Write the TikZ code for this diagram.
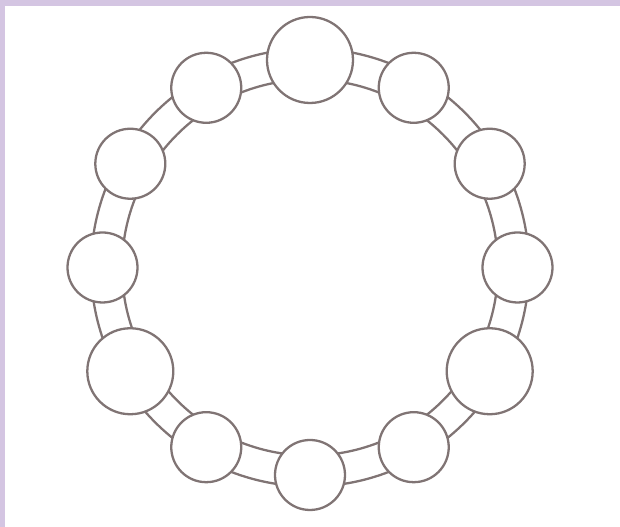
\documentclass[tikz,border=0pt]{standalone}
\usepackage{xcolor}
\usepackage{tikz}
\usetikzlibrary{calc}
\definecolor{beadline}{RGB}{128,116,116}
\definecolor{lavender}{RGB}{212,197,226}

\begin{document}
\begin{tikzpicture}[line join=round,
  bead/.style={circle,draw=beadline,fill=white,line width=1.3pt,inner sep=0pt,minimum size=1.40cm},
  bigbead/.style={bead,minimum size=1.72cm}]
  \useasboundingbox (0,0) rectangle (12.4,10.54);
  \fill[lavender] (0,10.42) rectangle (12.4,10.54);
  \fill[lavender] (0,0) rectangle (0.10,10.54);
  \coordinate (C) at (6.200,5.190);
  \draw[beadline,line width=1.3pt] (C) circle (3.76);
  \draw[beadline,line width=1.3pt] (C) circle (4.38);
  \node[bigbead] (N90) at ($(C)+(90:4.15)$) {};
  \node[bead] (N60) at ($(C)+(60:4.15)$) {};
  \node[bead] (N30) at ($(C)+(30:4.15)$) {};
  \node[bead] (N0) at ($(C)+(0:4.15)$) {};
  \node[bigbead] (N330) at ($(C)+(-30:4.15)$) {};
  \node[bead] (N300) at ($(C)+(-60:4.15)$) {};
  \node[bead] (N270) at ($(C)+(-90:4.15)$) {};
  \node[bead] (N240) at ($(C)+(-120:4.15)$) {};
  \node[bigbead] (N210) at ($(C)+(-150:4.15)$) {};
  \node[bead] (N180) at ($(C)+(180:4.15)$) {};
  \node[bead] (N150) at ($(C)+(150:4.15)$) {};
  \node[bead] (N120) at ($(C)+(120:4.15)$) {};
\end{tikzpicture}
\end{document}
